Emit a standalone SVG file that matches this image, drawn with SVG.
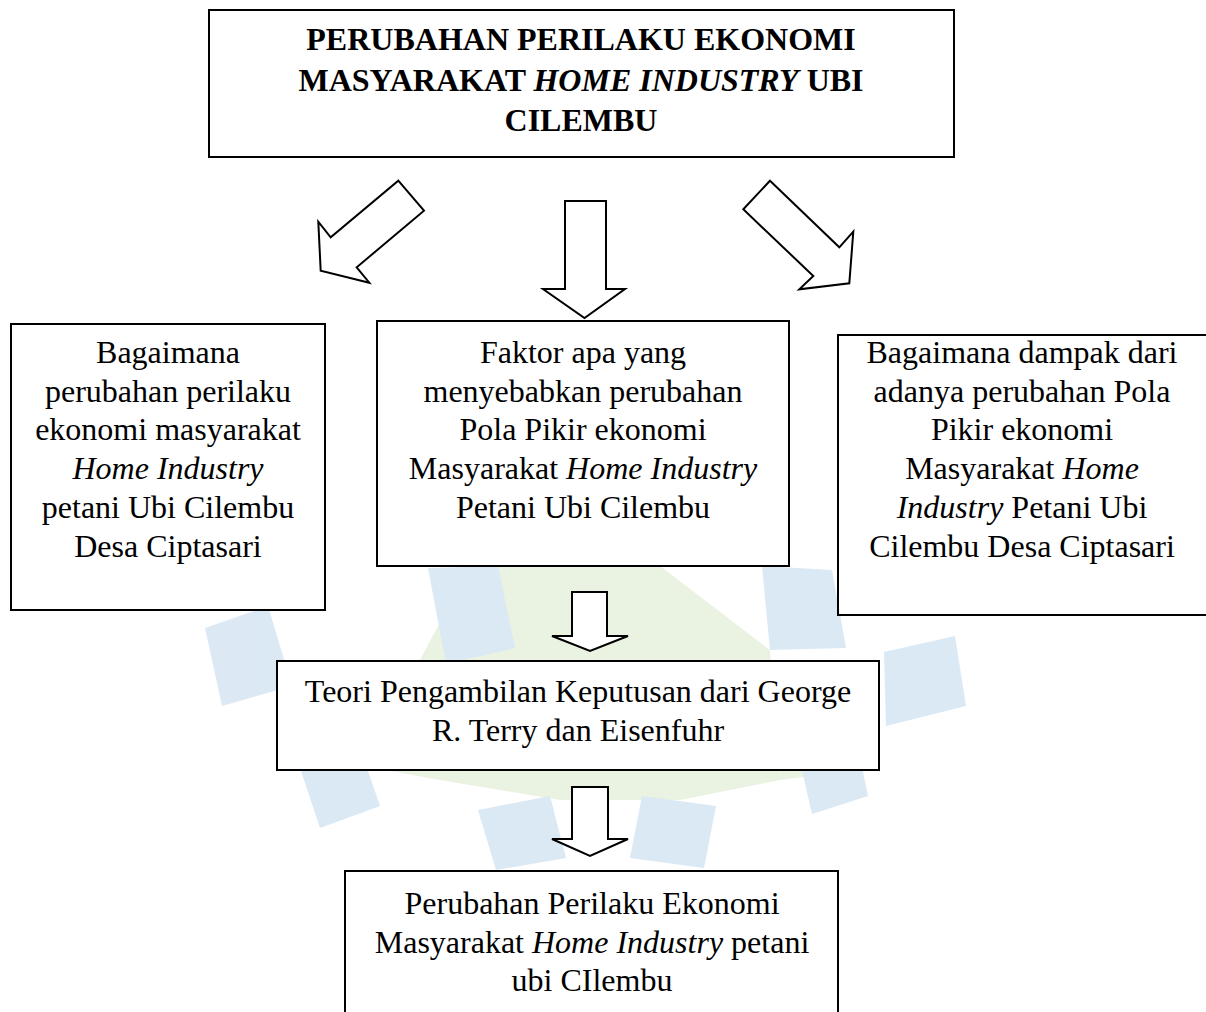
<svg xmlns="http://www.w3.org/2000/svg" width="1206" height="1012" viewBox="0 0 1206 1012">
<style>
  .box { fill: #ffffff; stroke: #000000; stroke-width: 2; }
  .arrow { fill: #ffffff; stroke: #000000; stroke-width: 2; stroke-linejoin: miter; }
  .t { font-family: "Liberation Serif", "Times New Roman", serif; font-size: 32px; fill: #000000; text-anchor: middle; }
  .title { font-weight: bold; }
  .i { font-style: italic; }
  .wb { fill: #d3e4f3; }
  .wg { fill: #e6efdb; }
</style>
<rect width="1206" height="1012" fill="#ffffff"/>
<g id="watermark" opacity="0.8">
  <polygon class="wg" points="470,566 660,566 770,650 780,780 680,800 560,800 440,780 420,660"/>
  <polygon class="wg" points="300,690 420,670 440,780 330,760"/>
  <polygon class="wg" points="770,660 880,690 860,770 780,780"/>
  <polygon class="wb" points="428,568 498,566 515,648 446,664"/>
  <polygon class="wb" points="205,628 268,606 292,686 222,706"/>
  <polygon class="wb" points="762,566 832,570 846,648 770,650"/>
  <polygon class="wb" points="884,652 955,636 966,706 886,726"/>
  <polygon class="wb" points="300,768 358,742 380,806 320,828"/>
  <polygon class="wb" points="796,744 856,738 868,796 812,814"/>
  <polygon class="wb" points="478,810 550,796 566,858 496,870"/>
  <polygon class="wb" points="642,796 716,806 704,868 630,858"/>
</g>
<g id="connectors">
  <polygon class="arrow" points="398.3,180.7 424,210.7 356.7,267.3 369.3,282.7 320.7,270.7 318.3,221.7 330.7,237.3"/>
  <polygon class="arrow" points="565,201 606,201 606,289 625,289 584.5,318 543,289 565,289"/>
  <polygon class="arrow" points="770,180.7 839.3,247.3 853.3,231.7 849.3,283.3 799.3,289.3 813.3,276 743.3,209.3"/>
  <polygon class="arrow" points="572,592 607,592 607,636 628,636 590,651 552,636 572,636"/>
  <polygon class="arrow" points="572,787 608,787 608,839 628,839 590,856 552,839 572,839"/>
</g>
<g id="node-title">
  <rect class="box" x="209" y="10" width="745" height="147"/>
  <text class="t title" x="581" y="50">PERUBAHAN PERILAKU EKONOMI</text>
  <text class="t title" x="581" y="91">MASYARAKAT <tspan class="i">HOME INDUSTRY</tspan> UBI</text>
  <text class="t title" x="581" y="131">CILEMBU</text>
</g>
<g id="node-left">
  <rect class="box" x="11" y="324" width="314" height="286"/>
  <text class="t" x="168" y="363">Bagaimana</text>
  <text class="t" x="168" y="402">perubahan perilaku</text>
  <text class="t" x="168" y="440">ekonomi masyarakat</text>
  <text class="t i" x="168" y="479">Home Industry</text>
  <text class="t" x="168" y="518">petani Ubi Cilembu</text>
  <text class="t" x="168" y="557">Desa Ciptasari</text>
</g>
<g id="node-middle">
  <rect class="box" x="377" y="321" width="412" height="245"/>
  <text class="t" x="583" y="363">Faktor apa yang</text>
  <text class="t" x="583" y="402">menyebabkan perubahan</text>
  <text class="t" x="583" y="440">Pola Pikir ekonomi</text>
  <text class="t" x="583" y="479">Masyarakat <tspan class="i">Home Industry</tspan></text>
  <text class="t" x="583" y="518">Petani Ubi Cilembu</text>
</g>
<g id="node-right">
  <rect class="box" x="838" y="335" width="369" height="280"/>
  <text class="t" x="1022" y="363">Bagaimana dampak dari</text>
  <text class="t" x="1022" y="402">adanya perubahan Pola</text>
  <text class="t" x="1022" y="440">Pikir ekonomi</text>
  <text class="t" x="1022" y="479">Masyarakat <tspan class="i">Home</tspan></text>
  <text class="t" x="1022" y="518"><tspan class="i">Industry</tspan> Petani Ubi</text>
  <text class="t" x="1022" y="557">Cilembu Desa Ciptasari</text>
</g>
<g id="node-theory">
  <rect class="box" x="277" y="661" width="602" height="109"/>
  <text class="t" x="578" y="702">Teori Pengambilan Keputusan dari George</text>
  <text class="t" x="578" y="741">R. Terry dan Eisenfuhr</text>
</g>
<g id="node-result">
  <rect class="box" x="345" y="871" width="493" height="150"/>
  <text class="t" x="592" y="914">Perubahan Perilaku Ekonomi</text>
  <text class="t" x="592" y="953">Masyarakat <tspan class="i">Home Industry</tspan> petani</text>
  <text class="t" x="592" y="991">ubi CIlembu</text>
</g>
</svg>
